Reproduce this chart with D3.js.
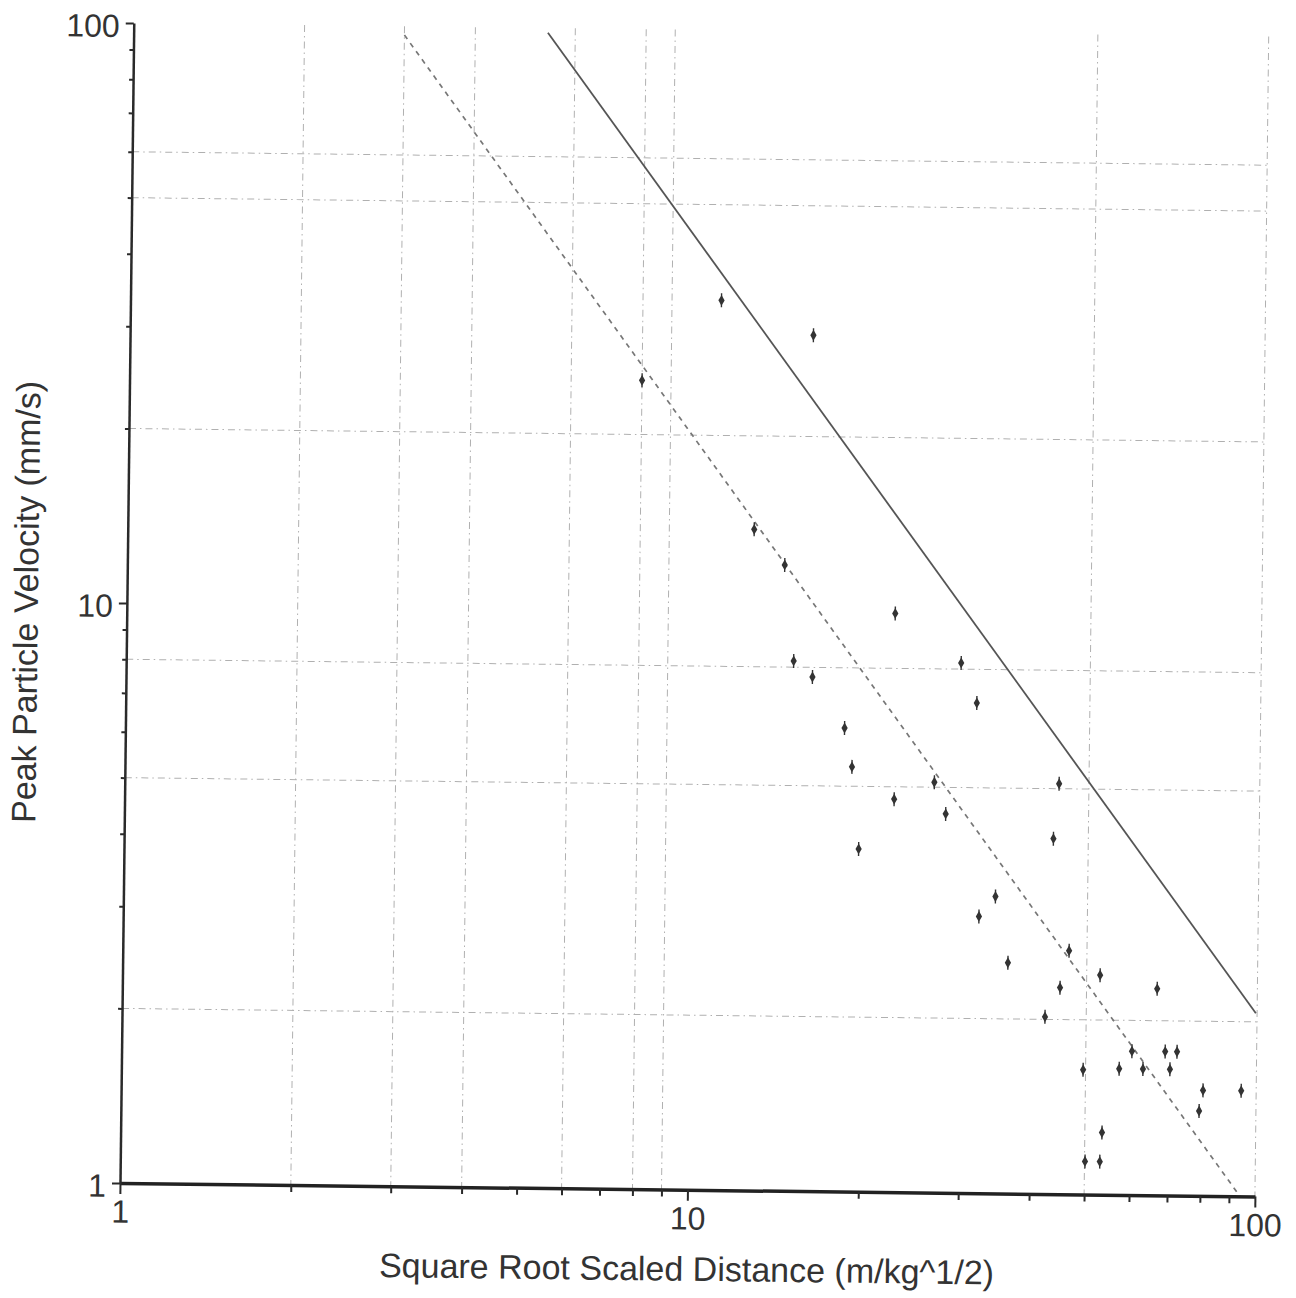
<!DOCTYPE html>
<html>
<head>
<meta charset="UTF-8">
<title>Peak Particle Velocity vs Scaled Distance</title>
<script src="https://d3js.org/d3.v7.min.js"></script>
<style>
  body { margin: 0; background: #fff; }
  text { font-family: "Liberation Sans", Arial, sans-serif; fill: #333; }
</style>
</head>
<body>
<div id="chart"></div>
<script>
// measured points (distance m/kg^1/2, ppv mm/s)
const distance = [11.0, 16.0, 8.0, 12.7, 14.4, 22.6, 15.0, 16.2, 29.6, 31.6,
                  18.5, 19.1, 26.7, 22.7, 44.3, 28.0, 19.7, 43.4, 34.4, 32.2,
                  36.3, 46.5, 52.8, 44.9, 66.6, 42.3, 49.5, 57.3, 63.1, 60.3,
                  69.0, 72.4, 70.4, 80.6, 94.1, 79.4, 53.6, 50.1, 53.2];
const velocity = [34.2, 29.9, 24.8, 13.8, 12.0, 9.95, 8.2, 7.7, 8.2, 7.0,
                  6.3, 5.4, 5.1, 4.76, 5.1, 4.5, 3.9, 4.1, 3.25, 3.0,
                  2.5, 2.63, 2.39, 2.27, 2.27, 2.02, 1.64, 1.65, 1.65, 1.77,
                  1.77, 1.77, 1.65, 1.52, 1.52, 1.40, 1.28, 1.14, 1.14];

// the two regression lines (end points)
const upperLineD = [5.37, 99.5];
const upperLineV = [98.1, 2.07];
const fitLineD = [3.0, 94.1];
const fitLineV = [96.6, 1.0];

const majorTicks = [1, 10, 100];
const minorTicks = [2, 3, 4, 5, 6, 7, 8, 9, 20, 30, 40, 50, 60, 70, 80, 90];
const xGridValues = [2, 3, 4, 6, 8, 9, 50, 100];
const yGridValues = [2, 5, 8, 20, 50, 60];

var width = 1296, height = 1298;
var plotLeft = 120, plotRight = 1255, plotTop = 23, plotBottom = 1183;

var svg = d3.select("#chart")
  .append("svg")
    .attr("width", width)
    .attr("height", height)
    .style("background", "#fff");

// the scanned page is slightly tilted
var g = svg.append("g")
    .attr("transform", "rotate(0.68," + plotLeft + "," + plotBottom + ")");

var x = d3.scaleLog().domain([1, 100]).range([plotLeft, plotRight]);
var y = d3.scaleLog().domain([1, 100]).range([plotBottom, plotTop]);

// grid
g.append("g")
  .selectAll("line")
  .data(xGridValues)
  .enter().append("line")
    .attr("x1", function(d) { return x(d); })
    .attr("x2", function(d) { return x(d); })
    .attr("y1", y(100))
    .attr("y2", y(1))
    .attr("stroke", "#b0b0b0")
    .attr("stroke-width", 1)
    .attr("stroke-dasharray", "7,4,1.5,4");

g.append("g")
  .selectAll("line")
  .data(yGridValues)
  .enter().append("line")
    .attr("x1", x(1))
    .attr("x2", x(100))
    .attr("y1", function(d) { return y(d); })
    .attr("y2", function(d) { return y(d); })
    .attr("stroke", "#b0b0b0")
    .attr("stroke-width", 1)
    .attr("stroke-dasharray", "7,4,1.5,4");

// lines
var line = d3.line()
  .x(function(d) { return x(d[0]); })
  .y(function(d) { return y(d[1]); });

g.append("path")
  .datum(d3.zip(upperLineD, upperLineV))
  .attr("fill", "none")
  .attr("stroke", "#555")
  .attr("stroke-width", 1.8)
  .attr("d", line);

g.append("path")
  .datum(d3.zip(fitLineD, fitLineV))
  .attr("fill", "none")
  .attr("stroke", "#777")
  .attr("stroke-width", 1.7)
  .attr("stroke-dasharray", "5,5")
  .attr("d", line);

// points
var pts = g.append("g")
  .selectAll("g")
  .data(d3.zip(distance, velocity))
  .enter().append("g")
    .attr("transform", function(d) { return "translate(" + x(d[0]) + "," + y(d[1]) + ")"; });

pts.append("line")
  .attr("y1", -7).attr("y2", 7)
  .attr("stroke", "#333").attr("stroke-width", 1.4);
pts.append("path")
  .attr("d", d3.symbol(d3.symbolDiamond, 34))
  .attr("fill", "#333");

// axes
var xAxis = g.append("g")
  .attr("transform", "translate(0," + plotBottom + ")")
  .call(d3.axisBottom(x).tickValues(majorTicks).tickSize(11).tickSizeOuter(0)
        .tickPadding(6).tickFormat(d3.format("d")));
g.append("g")
  .attr("transform", "translate(0," + plotBottom + ")")
  .call(d3.axisBottom(x).tickValues(minorTicks).tickSize(7).tickFormat(""))
  .select(".domain").remove();

var yAxis = g.append("g")
  .attr("transform", "translate(" + plotLeft + ",0)")
  .call(d3.axisLeft(y).tickValues(majorTicks).tickSize(8).tickSizeOuter(0)
        .tickPadding(6).tickFormat(d3.format("d")));
g.append("g")
  .attr("transform", "translate(" + plotLeft + ",0)")
  .call(d3.axisLeft(y).tickValues(minorTicks).tickSize(4).tickFormat(""))
  .select(".domain").remove();

g.selectAll(".tick line").attr("stroke", "#2a2a2a").attr("stroke-width", 2);
xAxis.select(".domain").attr("stroke", "#222").attr("stroke-width", 3.5);
yAxis.select(".domain").attr("stroke", "#2a2a2a").attr("stroke-width", 2.5);

g.selectAll(".tick text")
  .attr("font-size", 32)
  .attr("font-family", "Liberation Sans, Arial, sans-serif")
  .attr("fill", "#333");
yAxis.selectAll(".tick text").attr("dy", "0.42em");

// axis titles
g.append("text")
  .attr("x", (plotLeft + plotRight) / 2)
  .attr("y", 1274)
  .attr("text-anchor", "middle")
  .attr("font-size", 34)
  .text("Square Root Scaled Distance (m/kg^1/2)");

g.append("text")
  .attr("transform", "translate(31," + ((plotTop + plotBottom) / 2) + ") rotate(-90)")
  .attr("text-anchor", "middle")
  .attr("font-size", 34)
  .text("Peak Particle Velocity (mm/s)");
</script>
</body>
</html>
